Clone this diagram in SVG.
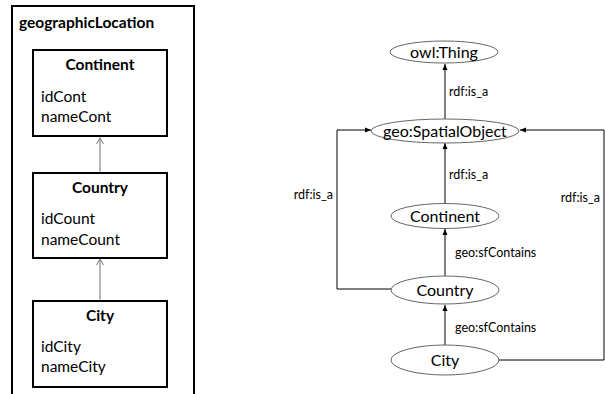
<svg xmlns="http://www.w3.org/2000/svg" width="605" height="394" viewBox="0 0 605 394">
<style>
text{font-family:Lato,"Open Sans","Liberation Sans",sans-serif;fill:#000}
.title{font-size:15.5px;font-weight:bold}
.hdr{font-size:15.5px;font-weight:bold;text-anchor:middle}
.attr{font-size:15.5px}
.box{fill:#fff;stroke:#000;stroke-width:2}
.node{font-size:16px;text-anchor:middle}
.lbl{font-size:12.5px}
.ell{fill:#fff;stroke:#666;stroke-width:1}
.uml{stroke:#888;stroke-width:1.2;fill:none}
.con{stroke:#000;stroke-width:1;fill:none}
</style>
<defs>
<marker id="open" markerWidth="10" markerHeight="10" refX="8" refY="5" orient="auto" markerUnits="userSpaceOnUse" viewBox="0 0 10 10">
<path d="M2,1.5 L8,5 L2,8.5" fill="none" stroke="#888" stroke-width="1.1"/>
</marker>
<marker id="tri" markerWidth="8" markerHeight="8" refX="7" refY="4" orient="auto" markerUnits="userSpaceOnUse" viewBox="0 0 8 8">
<path d="M1,1.5 L7,4 L1,6.5 Z" fill="#000"/>
</marker>
</defs>
<rect x="0" y="0" width="605" height="394" fill="#fff"/>
<g id="geographicLocation">
<rect x="12" y="6" width="182" height="400" fill="none" stroke="#000" stroke-width="2"/>
<text class="title" x="19" y="28">geographicLocation</text>
</g>
<g id="uml-connectors">
<line class="uml" x1="100" y1="173" x2="100" y2="138" marker-end="url(#open)"/>
<line class="uml" x1="100" y1="301" x2="100" y2="259" marker-end="url(#open)"/>
</g>
<g id="uml-continent">
<rect class="box" x="33" y="50" width="134" height="86"/>
<text class="hdr" x="100" y="70">Continent</text>
<text class="attr" x="41" y="102">idCont</text>
<text class="attr" x="41" y="122">nameCont</text>
</g>
<g id="uml-country">
<rect class="box" x="33" y="173" width="134" height="85"/>
<text class="hdr" x="100" y="193">Country</text>
<text class="attr" x="41" y="224">idCount</text>
<text class="attr" x="41" y="245">nameCount</text>
</g>
<g id="uml-city">
<rect class="box" x="33" y="301" width="134" height="86"/>
<text class="hdr" x="100" y="321">City</text>
<text class="attr" x="41" y="352">idCity</text>
<text class="attr" x="41" y="372">nameCity</text>
</g>
<g id="connectors">
<line class="con" x1="445" y1="119" x2="445" y2="64" marker-end="url(#tri)"/>
<text class="lbl" x="449" y="96">rdf:is_a</text>
<line class="con" x1="445" y1="204" x2="445" y2="143" marker-end="url(#tri)"/>
<text class="lbl" x="449" y="179">rdf:is_a</text>
<line class="con" x1="445" y1="277" x2="445" y2="229" marker-end="url(#tri)"/>
<text class="lbl" x="455" y="257">geo:sfContains</text>
<line class="con" x1="445" y1="346" x2="445" y2="305" marker-end="url(#tri)"/>
<text class="lbl" x="455" y="332">geo:sfContains</text>
<polyline class="con" points="391,289 337,289 337,130 371,130" marker-end="url(#tri)"/>
<text class="lbl" x="333" y="199" text-anchor="end">rdf:is_a</text>
<polyline class="con" points="498,360 604,360 604,130 520,130" marker-end="url(#tri)"/>
<text class="lbl" x="600" y="202" text-anchor="end">rdf:is_a</text>
</g>
<g id="owl-thing">
<ellipse class="ell" cx="444" cy="52" rx="54" ry="11"/>
<text class="node" x="444" y="57.5">owl:Thing</text>
</g>
<g id="geo-spatialobject">
<ellipse class="ell" cx="445" cy="131" rx="74" ry="12"/>
<text class="node" x="445" y="136.5">geo:SpatialObject</text>
</g>
<g id="continent">
<ellipse class="ell" cx="445" cy="216" rx="54" ry="12.5"/>
<text class="node" x="445" y="221.5">Continent</text>
</g>
<g id="country">
<ellipse class="ell" cx="445" cy="290" rx="54" ry="14"/>
<text class="node" x="445" y="295.5">Country</text>
</g>
<g id="city">
<ellipse class="ell" cx="445" cy="360" rx="54" ry="15"/>
<text class="node" x="445" y="365.5">City</text>
</g>
</svg>
